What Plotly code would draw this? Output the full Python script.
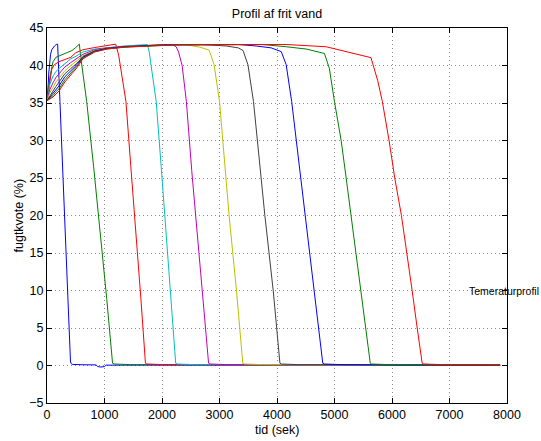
import plotly.graph_objects as go

# ---- data ----
title_text = "Profil af frit vand"
x_label = "tid (sek)"
y_label = "fugtkvote (%)"
note_text = "Temeraturprofil"

# common rise time grid for curves 4..10
t_rise = [0, 50, 105, 155, 210, 310, 415, 520, 625, 830, 1040, 1350]

t1 = [0, 10, 21, 31, 47, 62, 83, 104, 130, 160, 185, 225, 272, 321, 364, 400, 408, 416, 437,
      624, 853, 884, 936, 998, 1030, 1560, 3120, 5200, 7880]
v1 = [35.3, 36.0, 37.5, 39.0, 40.5, 41.5, 42.1, 42.4, 42.6, 42.8, 42.85, 35.2, 26.3, 16.8, 8.5,
      0.8, 0.6, 0.3, 0.15, 0.1, 0.08, -0.15, -0.2, -0.15, 0.05, 0.05, 0.03, 0.03, 0.03]

t2 = [0, 21, 52, 104, 156, 260, 364, 437, 499, 562, 603, 690, 811, 940, 1040, 1140, 1165,
      1456, 3120, 5200, 7880]
v2 = [35.3, 36.3, 38.5, 40.5, 41.1, 41.4, 41.7, 42.0, 42.4, 42.85, 40.2, 35.2, 26.5, 16.8,
      8.8, 0.3, 0.2, 0.12, 0.08, 0.06, 0.05]

t3 = [0, 26, 52, 83, 125, 208, 312, 416, 499, 624, 832, 1040, 1196, 1248, 1310, 1373, 1456,
      1550, 1633, 1712, 1737, 2028, 3640, 7880]
v3 = [35.3, 36.5, 38.3, 39.5, 40.1, 40.5, 40.8, 41.1, 41.7, 42.1, 42.4, 42.65, 42.85, 41.3,
      38.3, 35.2, 26.7, 17.5, 8.9, 0.3, 0.2, 0.12, 0.07, 0.05]

v4_rise = [35.3, 37.5, 38.6, 39.2, 39.6, 40.3, 40.9, 41.3, 41.8, 42.2, 42.4, 42.6]
t4_rest = [1747, 1778, 1810, 1899, 1986, 2080, 2163, 2238, 2262, 2548, 4160, 7880]
v4_rest = [42.8, 41.8, 40.0, 35.2, 26.5, 17.0, 8.5, 0.3, 0.2, 0.12, 0.07, 0.05]

v5_rise = [35.3, 36.8, 37.7, 38.4, 38.9, 39.8, 40.4, 40.9, 41.5, 42.1, 42.35, 42.55]
t5_rest = [1768, 2184, 2246, 2288, 2350, 2424, 2517, 2618, 2714, 2810, 2834, 3120, 4680, 7880]
v5_rest = [42.7, 42.8, 42.5, 41.8, 40.0, 35.2, 26.0, 16.8, 8.3, 0.3, 0.2, 0.12, 0.07, 0.05]

v6_rise = [35.3, 36.4, 37.1, 37.8, 38.3, 39.3, 40.0, 40.6, 41.3, 42.0, 42.3, 42.5]
t6_rest = [1872, 2392, 2658, 2819, 2906, 3000, 3084, 3167, 3295, 3405, 3432, 3744, 5200, 7880]
v6_rest = [42.75, 42.8, 42.45, 42.06, 40.1, 35.2, 27.5, 20.0, 10.0, 0.3, 0.2, 0.12, 0.07, 0.05]

v7_rise = [35.3, 36.0, 36.6, 37.2, 37.8, 38.9, 39.6, 40.3, 41.2, 41.95, 42.3, 42.5]
t7_rest = [1976, 2704, 3120, 3328, 3409, 3495, 3591, 3690, 3789, 3934, 4051, 4077, 4368, 5720, 7880]
v7_rest = [42.75, 42.8, 42.6, 42.35, 42.0, 40.1, 35.2, 27.5, 20.0, 10.0, 0.3, 0.2, 0.12, 0.07, 0.05]

v8_rise = [35.3, 35.8, 36.3, 36.8, 37.3, 38.5, 39.3, 40.1, 41.1, 41.9, 42.25, 42.5]
t8_rest = [2080, 3328, 3640, 3900, 4074, 4160, 4255, 4374, 4494, 4651, 4796, 4826, 5096, 6240, 7880]
v8_rest = [42.75, 42.8, 42.6, 42.35, 41.85, 40.1, 35.2, 27.6, 20.0, 10.0, 0.3, 0.2, 0.12, 0.07, 0.05]

v9_rise = [35.3, 35.6, 36.0, 36.5, 36.9, 38.1, 39.0, 39.9, 41.0, 41.85, 42.2, 42.45]
t9_rest = [2184, 3744, 4160, 4506, 4825, 4911, 4999, 5116, 5203, 5290, 5378, 5465, 5553, 5622,
           5647, 5928, 6760, 7880]
v9_rest = [42.75, 42.8, 42.5, 42.2, 41.6, 39.6, 35.2, 30.0, 25.0, 20.0, 15.0, 10.0, 5.0, 0.3,
           0.2, 0.12, 0.07, 0.05]

v10_rise = [35.3, 35.5, 35.8, 36.2, 36.6, 37.8, 38.8, 39.7, 40.9, 41.8, 42.2, 42.45]
t10_rest = [2288, 4160, 4854, 5200, 5634, 5751, 5832, 5949, 6048, 6164, 6251, 6350, 6438, 6525,
            6552, 6864, 7880]
v10_rest = [42.75, 42.8, 42.5, 41.9, 41.05, 38.0, 35.2, 30.0, 25.0, 20.0, 15.0, 10.0, 5.0, 0.3,
            0.2, 0.12, 0.05]

note_x, note_y = 7300, 10

# ---- styling ----
colors = ["#0000FF", "#008000", "#FF0000", "#00BFBF", "#BF00BF", "#BFBF00", "#404040",
          "#0000FF", "#008000", "#FF0000"]

series = [
    (t1, v1),
    (t2, v2),
    (t3, v3),
    (t_rise + t4_rest, v4_rise + v4_rest),
    (t_rise + t5_rest, v5_rise + v5_rest),
    (t_rise + t6_rest, v6_rise + v6_rest),
    (t_rise + t7_rest, v7_rise + v7_rest),
    (t_rise + t8_rest, v8_rise + v8_rest),
    (t_rise + t9_rest, v9_rise + v9_rest),
    (t_rise + t10_rest, v10_rise + v10_rest),
]

FONT = "Liberation Sans, Arial, Helvetica, sans-serif"

fig = go.Figure()
for (tx, vy), c in zip(series, colors):
    fig.add_trace(go.Scatter(x=tx, y=vy, mode="lines",
                             line=dict(color=c, width=1), showlegend=False,
                             hoverinfo="skip"))

axis_common = dict(
    showline=True, linecolor="black", linewidth=1, mirror="ticks",
    ticks="inside", ticklen=5, tickcolor="black", tickwidth=1,
    showgrid=True, gridcolor="rgba(0,0,0,0.45)", gridwidth=1, griddash="1px,3px",
    zeroline=False,
    tickfont=dict(family=FONT, size=12.5, color="black"),
)

fig.update_xaxes(range=[0, 8000], tick0=0, dtick=1000, **axis_common)
fig.update_yaxes(range=[-5, 45], tick0=-5, dtick=5, **axis_common)

fig.update_layout(
    width=541, height=441,
    margin=dict(l=47, r=34, t=28, b=38),
    paper_bgcolor="white", plot_bgcolor="white",
    title=dict(text=title_text, x=(47 + 507) / 2 / 541, xanchor="center",
               y=1 - 14 / 441, yanchor="middle", yref="container",
               font=dict(family=FONT, size=12.5, color="black")),
    annotations=[
        dict(text=x_label, xref="paper", yref="paper", x=0.5, y=0, yshift=-27,
             xanchor="center", yanchor="middle", showarrow=False,
             font=dict(family=FONT, size=12.5, color="black")),
        dict(text=y_label, xref="paper", yref="paper", x=0, y=0.5, xshift=-29,
             xanchor="center", yanchor="middle", textangle=-90, showarrow=False,
             font=dict(family=FONT, size=12.5, color="black")),
        dict(text=note_text, xref="x", yref="y", x=note_x, y=note_y,
             xanchor="left", yanchor="middle", showarrow=False,
             font=dict(family=FONT, size=10.5, color="black")),
    ],
)

fig.write_html("out.html")
